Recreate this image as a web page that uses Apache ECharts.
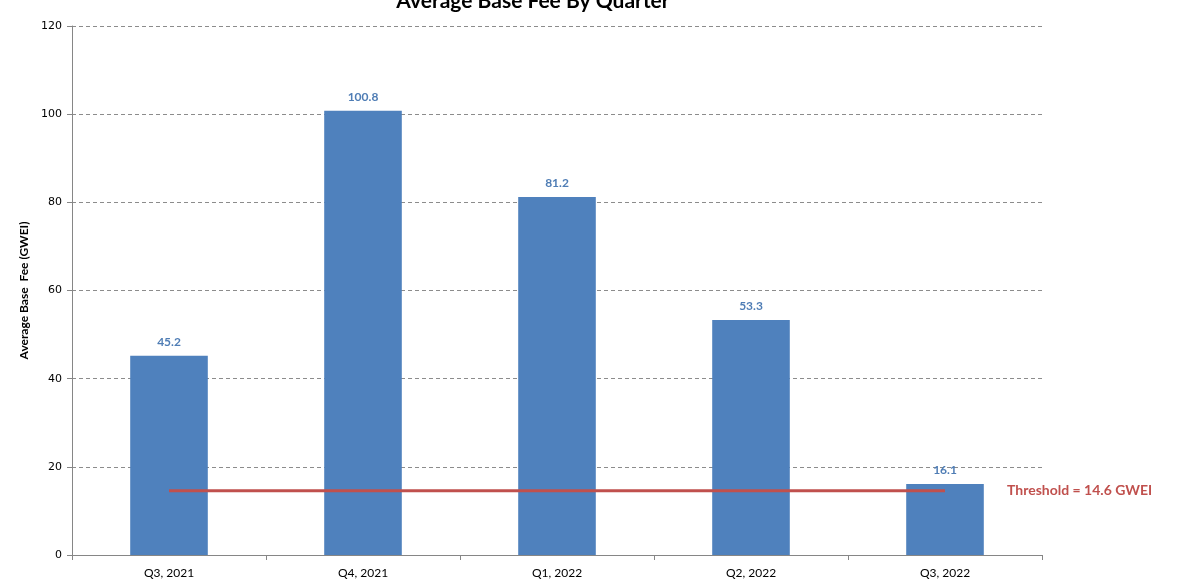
<!DOCTYPE html>
<html>
<head>
<meta charset="utf-8">
<script src="https://cdn.jsdelivr.net/npm/echarts@6/dist/echarts.min.js"></script>
<style>html,body{margin:0;padding:0;background:#fff;}#c{width:1181px;height:579px;}</style>
</head>
<body>
<div id="c"></div>
<script>
const categories = ['Q3, 2021', 'Q4, 2021', 'Q1, 2022', 'Q2, 2022', 'Q3, 2022'];
const avgBaseFee = [45.2, 100.8, 81.2, 53.3, 16.1];
const threshold = [14.6, 14.6, 14.6, 14.6, 14.6];
const thresholdLabel = 'Threshold = 14.6 GWEI';
const yTicks = { min: 0, max: 120, interval: 20 };

const chart = echarts.init(document.getElementById('c'), null, { renderer: 'canvas' });
chart.setOption({
  animation: false,
  backgroundColor: '#ffffff',
  title: {
    text: 'Average Base Fee By Quarter',
    left: 528, textAlign: 'center', top: -14,
    textStyle: { fontFamily: 'Lato, "Open Sans", sans-serif', fontWeight: 'bold', fontSize: 21, color: '#000' }
  },
  grid: { left: 72, right: 139, top: 26, bottom: 20 },
  xAxis: {
    type: 'category',
    data: categories,
    boundaryGap: true,
    axisLine: { lineStyle: { color: '#868686', width: 1 } },
    axisTick: { show: true, alignWithLabel: false, length: 5, lineStyle: { color: '#868686' } },
    axisLabel: { fontFamily: 'Lato, "Open Sans", sans-serif', fontSize: 12, color: '#000', margin: 12 },
    splitLine: { show: false }
  },
  yAxis: {
    type: 'value',
    min: yTicks.min, max: yTicks.max, interval: yTicks.interval,
    name: 'Average Base  Fee (GWEI)',
    nameLocation: 'middle',
    nameGap: 37,
    nameTextStyle: { fontFamily: 'Lato, "Open Sans", sans-serif', fontWeight: 'bold', fontSize: 12, color: '#000' },
    axisLine: { show: true, lineStyle: { color: '#868686', width: 1 } },
    axisTick: { show: true, length: 5, lineStyle: { color: '#868686' } },
    axisLabel: { fontFamily: 'Verdana, "DejaVu Sans", sans-serif', fontSize: 11, color: '#000', margin: 10 },
    splitLine: { show: true, lineStyle: { color: '#8c8c8c', type: [4, 3], width: 1 } }
  },
  series: [
    {
      type: 'bar',
      data: avgBaseFee,
      barWidth: '40%',
      itemStyle: { color: '#4F81BD' },
      label: {
        show: true, position: 'top', distance: 8,
        fontFamily: 'Lato, "Open Sans", sans-serif', fontWeight: 'bold', fontSize: 12, color: '#4F7DB5',
        formatter: p => p.value.toFixed(1)
      }
    },
    {
      type: 'line',
      data: threshold,
      symbol: 'none',
      lineStyle: { color: '#C0504D', width: 3 },
      z: 5,
      endLabel: {
        show: true, distance: 62,
        formatter: thresholdLabel,
        fontFamily: 'Lato, "Open Sans", sans-serif', fontWeight: 'bold', fontSize: 14, color: '#C0504D'
      }
    }
  ]
});
</script>
</body>
</html>
